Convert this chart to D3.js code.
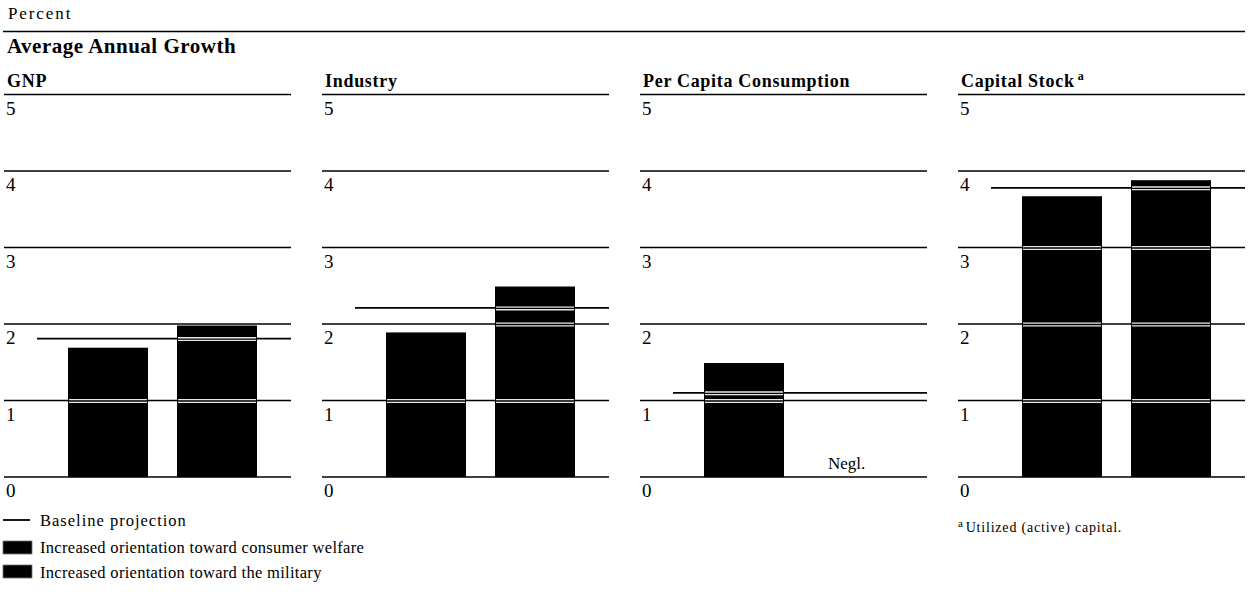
<!DOCTYPE html>
<html lang="en">
<head>
    <meta charset="UTF-8">
    <title>Average Annual Growth</title>
    <script src="https://cdn.jsdelivr.net/npm/d3@7"></script>
    <style>
        body { margin: 0; background: #fff; }
        text { font-family: "Liberation Serif", "Times New Roman", serif; fill: #000; }
    </style>
</head>
<body>
    <main></main>

    <script>
        // values (percent)
        var panels = ["GNP", "Industry", "Per Capita Consumption", "Capital Stock"];
        var scenarios = ["consumer", "military"];
        var consumerValues = [1.69, 1.89, 1.49, 3.67];
        var militaryValues = [1.98, 2.49, null, 3.88];
        var baselineValues = [1.81, 2.21, 1.10, 3.78];
        var tickValues = [0, 1, 2, 3, 4, 5];
        var legendLabels = ["Baseline projection",
            "Increased orientation toward consumer welfare",
            "Increased orientation toward the military"];

        var width = 1251;
        var height = 601;

        var svg = d3.select('main')
            .append('svg')
            .attr('width', width)
            .attr('height', height);

        var xPanel = d3.scaleBand()
            .domain(panels)
            .range([4, 1245])
            .paddingInner(0.0975)
            .paddingOuter(0);

        var xBar = d3.scaleBand()
            .domain(scenarios)
            .range([64, 253])
            .paddingInner(0.266)
            .paddingOuter(0);

        var y = d3.scaleLinear()
            .domain([0, 5])
            .range([477, 94.5]);

        // header
        svg.append('text')
            .attr('x', 8)
            .attr('y', 19)
            .style('font-size', '17px')
            .style('letter-spacing', '1.9px')
            .text('Percent');

        svg.append('line')
            .attr('x1', 3).attr('x2', 1245)
            .attr('y1', 31.5).attr('y2', 31.5)
            .attr('stroke', '#000')
            .attr('stroke-width', 1.6);

        svg.append('text')
            .attr('x', 7)
            .attr('y', 53)
            .style('font-size', '21px')
            .style('font-weight', 'bold')
            .style('letter-spacing', '0.5px')
            .text('Average Annual Growth');

        panels.forEach(function (name, i) {
            var left = xPanel(name);
            var bw = xPanel.bandwidth();
            var g = svg.append('g')
                .attr('transform', `translate(${left}, 0)`);

            var title = g.append('text')
                .attr('x', 3)
                .attr('y', 87)
                .style('font-size', '18px')
                .style('font-weight', 'bold')
                .style('letter-spacing', '0.7px')
                .text(name);
            if (name == 'Capital Stock') {
                title.append('tspan')
                    .attr('dy', -7)
                    .attr('dx', 3)
                    .style('font-size', '12px')
                    .text('a');
            }

            // gridlines and tick labels
            g.selectAll('.grid')
                .data(tickValues)
                .enter()
                .append('line')
                .attr('class', 'grid')
                .attr('x1', 0)
                .attr('x2', bw)
                .attr('y1', d => y(d))
                .attr('y2', d => y(d))
                .attr('stroke', '#000')
                .attr('stroke-width', 1.5);

            g.selectAll('.tick-label')
                .data(tickValues)
                .enter()
                .append('text')
                .attr('class', 'tick-label')
                .attr('x', 2)
                .attr('y', d => y(d) + 20)
                .style('font-size', '19px')
                .text(d => d);

            // baseline projection
            g.append('line')
                .attr('x1', 33)
                .attr('x2', bw)
                .attr('y1', y(baselineValues[i]))
                .attr('y2', y(baselineValues[i]))
                .attr('stroke', '#000')
                .attr('stroke-width', 1.8);

            var bars = [
                { key: 'consumer', value: consumerValues[i] },
                { key: 'military', value: militaryValues[i] }
            ].filter(d => d.value != null);

            g.selectAll('.bar')
                .data(bars)
                .enter()
                .append('rect')
                .attr('class', 'bar')
                .attr('x', d => xBar(d.key))
                .attr('y', d => y(d.value))
                .attr('width', xBar.bandwidth())
                .attr('height', d => y(0) - y(d.value))
                .attr('fill', '#000');

            // lines showing through the bars as white double rules
            bars.forEach(function (b) {
                var through = tickValues.filter(t => t > 0 && t < b.value);
                if (baselineValues[i] < b.value) through.push(baselineValues[i]);
                through.forEach(function (t) {
                    g.append('line')
                        .attr('x1', xBar(b.key) + 1)
                        .attr('x2', xBar(b.key) + xBar.bandwidth() - 1)
                        .attr('y1', y(t) + 0.5)
                        .attr('y2', y(t) + 0.5)
                        .attr('stroke', '#e8e8e8')
                        .attr('stroke-width', 4);
                    g.append('line')
                        .attr('x1', xBar(b.key))
                        .attr('x2', xBar(b.key) + xBar.bandwidth())
                        .attr('y1', y(t) + 0.5)
                        .attr('y2', y(t) + 0.5)
                        .attr('stroke', '#000')
                        .attr('stroke-width', 1.3);
                });
            });

            if (militaryValues[i] == null) {
                g.append('text')
                    .attr('x', xBar('military') + 15)
                    .attr('y', y(0) - 8)
                    .style('font-size', '17px')
                    .text('Negl.');
            }
        });

        // legend
        var legend = svg.append('g').attr('id', 'legend');

        legend.append('line')
            .attr('x1', 3).attr('x2', 30)
            .attr('y1', 520).attr('y2', 520)
            .attr('stroke', '#000')
            .attr('stroke-width', 1.8);

        legend.selectAll('.swatch')
            .data(legendLabels.slice(1))
            .enter()
            .append('rect')
            .attr('class', 'swatch')
            .attr('x', 3)
            .attr('y', (d, i) => 541 + i * 24)
            .attr('width', 29)
            .attr('height', 13)
            .attr('fill', '#000')
            .attr('stroke', '#777')
            .attr('stroke-width', 0.8);

        legend.selectAll('.legend-label')
            .data(legendLabels)
            .enter()
            .append('text')
            .attr('class', 'legend-label')
            .attr('x', 40)
            .attr('y', (d, i) => i == 0 ? 526 : 553 + (i - 1) * 25)
            .style('font-size', '16.5px')
            .style('letter-spacing', (d, i) => i == 0 ? '1px' : '0.3px')
            .text(d => d);

        // footnote
        var note = svg.append('text')
            .attr('x', 958)
            .attr('y', 532)
            .style('font-size', '14px')
            .style('letter-spacing', '0.8px');
        note.append('tspan')
            .attr('dy', -5)
            .style('font-size', '11px')
            .text('a');
        note.append('tspan')
            .attr('dy', 5)
            .attr('dx', 2)
            .text('Utilized (active) capital.');
    </script>
</body>
</html>
